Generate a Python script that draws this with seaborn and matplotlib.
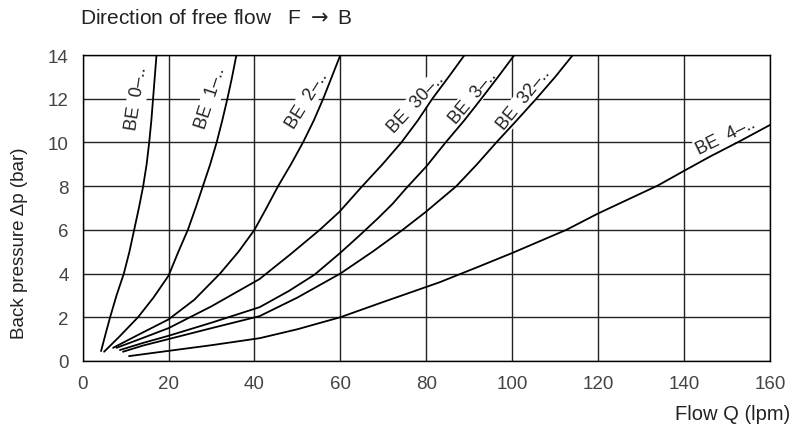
import pandas as pd
import seaborn as sns
import matplotlib.pyplot as plt

# flow Q (lpm) / back pressure dp (bar) per valve size
be0_q = [4.3, 5.3, 6.4, 7.9, 9.6, 10.9, 12.0, 13.1, 14.1, 14.9, 15.5, 16.0, 16.4, 16.8, 17.2]
be0_p = [0.45, 1.2, 2.0, 3.0, 4.0, 5.0, 6.0, 7.0, 8.0, 9.0, 10.0, 11.0, 12.0, 13.0, 14.0]

be1_q = [5.0, 8.5, 12.9, 16.5, 20.0, 22.3, 24.5, 26.3, 28.0, 29.7, 31.2, 32.5, 33.7, 34.8, 35.8]
be1_p = [0.42, 1.1, 2.0, 2.9, 3.9, 5.0, 6.0, 7.0, 8.0, 9.0, 10.0, 11.0, 12.0, 13.0, 14.0]

be2_q = [7.1, 13.0, 20.0, 26.0, 32.0, 36.3, 40.0, 42.8, 45.5, 48.5, 51.3, 53.8, 56.0, 58.0, 60.0]
be2_p = [0.6, 1.2, 1.9, 2.8, 4.0, 5.0, 6.0, 7.0, 8.0, 9.0, 10.0, 11.0, 12.0, 13.0, 14.0]

be30_q = [7.9, 14.0, 20.0, 30.0, 41.2, 48.5, 55.2, 59.8, 65.1, 69.8, 74.2, 78.0, 81.4, 85.2, 88.9]
be30_p = [0.6, 1.05, 1.5, 2.5, 3.75, 4.9, 6.0, 6.83, 8.0, 9.0, 10.0, 11.0, 12.0, 13.0, 14.0]

be3_q = [8.7, 14.0, 20.0, 30.0, 41.2, 48.0, 54.0, 60.0, 64.5, 68.7, 72.2, 75.3, 80.0, 84.5,
         88.8, 92.8, 96.7, 100.5]
be3_p = [0.5, 0.82, 1.15, 1.75, 2.46, 3.2, 3.95, 4.95, 5.75, 6.52, 7.2, 7.9, 8.9, 10.0,
         11.0, 12.0, 13.0, 14.0]

be32_q = [9.4, 14.0, 20.0, 30.0, 41.2, 50.0, 60.0, 67.5, 74.5, 80.0, 87.0, 91.8, 96.3, 101.0,
          105.6, 110.0, 114.1]
be32_p = [0.42, 0.7, 1.0, 1.5, 2.05, 2.9, 4.0, 5.0, 6.0, 6.84, 8.0, 9.0, 10.0, 11.0,
          12.0, 13.0, 14.0]

be4_q = [10.8, 20.0, 30.0, 41.2, 50.0, 60.0, 70.0, 83.1, 92.0, 100.0, 112.6, 120.0, 133.9,
         140.0, 146.0, 152.9, 160.0]
be4_p = [0.22, 0.46, 0.72, 1.04, 1.45, 2.0, 2.7, 3.6, 4.3, 4.94, 6.0, 6.75, 8.03,
         8.7, 9.35, 10.05, 10.8]

curve_names = ['BE 0', 'BE 1', 'BE 2', 'BE 30', 'BE 3', 'BE 32', 'BE 4']
label_texts = ['BE  0\u2013..', 'BE  1\u2013..', 'BE  2\u2013..', 'BE  30\u2013..',
               'BE  3\u2013..', 'BE  32\u2013..', 'BE  4\u2013..']
label_q = [12.6, 29.9, 52.2, 77.6, 90.8, 102.8, 149.8]
label_p = [12.05, 12.05, 11.95, 11.8, 12.1, 12.0, 10.3]
label_rot = [81, 72, 58, 47, 50, 51, 26]

all_q = [be0_q, be1_q, be2_q, be30_q, be3_q, be32_q, be4_q]
all_p = [be0_p, be1_p, be2_p, be30_p, be3_p, be32_p, be4_p]
rows = []
for name, qs, ps in zip(curve_names, all_q, all_p):
    for q, p in zip(qs, ps):
        rows.append({'curve': name, 'Q': q, 'dp': p})
data = pd.DataFrame(rows)

sns.set_style('white')
plt.rcParams['font.family'] = ['Liberation Sans', 'DejaVu Sans']
plt.rcParams['xtick.direction'] = 'out'
plt.rcParams['ytick.direction'] = 'out'

fig = plt.figure(figsize=(8.02, 4.35), dpi=100)
ax = fig.add_axes([0.103, 0.168, 0.857, 0.703])

sns.lineplot(data=data, x='Q', y='dp', units='curve', estimator=None,
             sort=False, color='black', linewidth=1.3, ax=ax, zorder=3)

for txt, q, p, r in zip(label_texts, label_q, label_p, label_rot):
    ax.text(q, p, txt, rotation=r, rotation_mode='anchor', ha='center', va='center',
            fontsize=13, color='#222222', zorder=2.5,
            bbox=dict(facecolor='white', edgecolor='none', pad=1.0))

ax.set_xlim(0, 160)
ax.set_ylim(0, 14)
ax.set_xticks(range(0, 161, 20))
ax.set_yticks(range(0, 15, 2))
ax.grid(True, color='#222222', linewidth=1.0, zorder=1)
ax.set_axisbelow(True)
for s in ax.spines.values():
    s.set_color('black')
    s.set_linewidth(1.0)
ax.tick_params(axis='both', length=6, width=1.0, color='black', labelsize=13.5, pad=4,
               labelcolor='#444444')
ax.set_xlabel('')
ax.set_ylabel('')

fig.text(0.1, 0.957, 'Direction of free flow   F $\\rightarrow$ B', fontsize=15, ha='left',
         va='center', color='#222222')
fig.text(0.985, 0.046, 'Flow Q (lpm)', fontsize=14.5, ha='right', va='center', color='#222222')
fig.text(0.024, 0.44, 'Back pressure \u0394p (bar)', fontsize=13.5, rotation=90,
         ha='center', va='center', color='#222222')

fig.savefig('out.png', dpi=100)
